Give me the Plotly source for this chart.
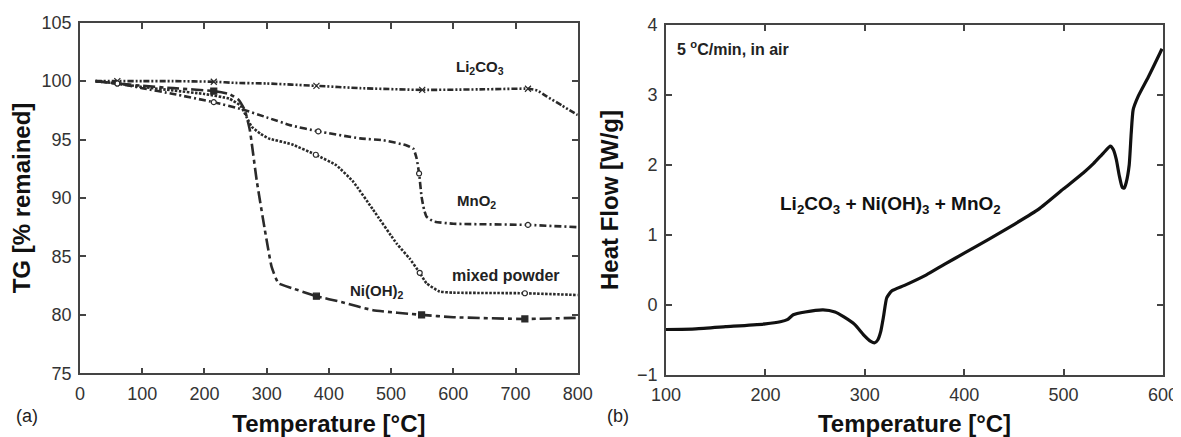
import plotly.graph_objects as go

# ---------------- (a) TG data ----------------
li_x = [25, 60, 100, 150, 215, 250, 300, 380, 450, 550, 650, 720, 735, 750, 775, 800]
li_y = [100, 100, 100, 100, 99.95, 99.85, 99.8, 99.6, 99.4, 99.25, 99.3, 99.35, 99.2, 98.7, 97.9, 97.1]
li_mx = [60, 215, 380, 550, 720]
li_my = [100, 99.95, 99.6, 99.25, 99.35]

mn_x = [25, 60, 100, 150, 215, 260, 300, 340, 383, 450, 487, 525, 536, 541, 545, 549, 553, 557, 568, 600, 720, 800]
mn_y = [100, 99.8, 99.4, 98.9, 98.2, 97.6, 96.9, 96.2, 95.7, 95.1, 94.95, 94.5, 94.2, 93.4, 92.1, 90.1, 89.0, 88.4, 88.0, 87.8, 87.7, 87.5]
mn_mx = [60, 215, 383, 545, 720]
mn_my = [99.8, 98.2, 95.7, 92.1, 87.7]

mix_x = [25, 60, 100, 150, 200, 240, 258, 268, 276, 290, 303, 340, 379, 412, 439, 471, 509, 530, 546, 557, 578, 600, 715, 800]
mix_y = [100, 99.8, 99.5, 99.2, 98.9, 98.5, 97.9, 96.9, 96.1, 95.5, 95.1, 94.6, 93.7, 92.8, 91.4, 89.0, 86.1, 84.8, 83.6, 82.7, 82.0, 81.9, 81.85, 81.7]
mix_mx = [60, 379, 546, 715]
mix_my = [99.8, 93.7, 83.6, 81.85]

ni_x = [25, 60, 100, 150, 215, 240, 255, 265, 273, 284, 297, 308, 319, 340, 380, 420, 471, 549, 600, 715, 800]
ni_y = [100, 99.8, 99.6, 99.4, 99.15, 98.9, 98.4, 97.5, 95.8, 91.5, 87.3, 84.1, 82.7, 82.3, 81.6, 81.1, 80.4, 80.0, 79.8, 79.65, 79.75]
ni_mx = [215, 380, 549, 715]
ni_my = [99.15, 81.6, 80.0, 79.65]

# ---------------- (b) DSC data ----------------
dsc_x = [100, 130, 160, 200, 215, 222, 228, 240, 258, 270, 279, 290, 299, 306, 310, 313, 316, 319, 322, 327,
         340, 362, 380, 400, 425, 450, 475, 500, 520, 530, 540, 547, 550, 553, 556, 559, 561, 563, 566, 568,
         570, 575, 585, 597, 599]
dsc_y = [-0.35, -0.34, -0.31, -0.27, -0.24, -0.21, -0.14, -0.10, -0.07, -0.10, -0.17, -0.28, -0.43, -0.52, -0.54, -0.50, -0.38, -0.15, 0.10, 0.20,
         0.28, 0.43, 0.58, 0.74, 0.94, 1.15, 1.37, 1.66, 1.89, 2.02, 2.17, 2.27, 2.22, 2.08, 1.85, 1.68, 1.67, 1.75, 2.0, 2.45,
         2.79, 2.98, 3.25, 3.6, 3.66]

tg_xticks = [0, 100, 200, 300, 400, 500, 600, 700, 800]
tg_yticks = [75, 80, 85, 90, 95, 100, 105]
dsc_xticks = [100, 200, 300, 400, 500, 600]
dsc_yticks = [-1, 0, 1, 2, 3, 4]

FONT = "Arial, Liberation Sans, sans-serif"
LC = "#2a2a2a"

fig = go.Figure()

def add_series(x, y, mx, my, dash, symbol, msize, mfill):
    fig.add_trace(go.Scatter(x=x, y=y, mode="lines", xaxis="x", yaxis="y",
                             line=dict(color=LC, width=2.6, dash=dash, shape="spline", smoothing=0.4),
                             showlegend=False, hoverinfo="skip"))
    fig.add_trace(go.Scatter(x=mx, y=my, mode="markers", xaxis="x", yaxis="y",
                             marker=dict(symbol=symbol, size=msize, color=mfill,
                                         line=dict(color=LC, width=1.2)),
                             showlegend=False, hoverinfo="skip"))

add_series(li_x, li_y, li_mx, li_my, "6px,2px,2px,2px,2px,2px", "x-thin", 6, LC)
add_series(mn_x, mn_y, mn_mx, mn_my, "7px,3px,2px,3px", "circle", 5, "white")
add_series(mix_x, mix_y, mix_mx, mix_my, "2.5px,1.5px", "circle", 5, "white")
add_series(ni_x, ni_y, ni_mx, ni_my, "12px,4px,4px,4px", "square", 6, LC)

fig.add_trace(go.Scatter(x=dsc_x, y=dsc_y, mode="lines", xaxis="x2", yaxis="y2",
                         line=dict(color="#111111", width=3.2, shape="spline", smoothing=0.5),
                         showlegend=False, hoverinfo="skip"))

axis_common = dict(showline=True, linecolor="#444", linewidth=1.6, mirror="ticks",
                   ticks="inside", ticklen=6, tickwidth=1.6, tickcolor="#444",
                   showgrid=False, zeroline=False, ticklabelstandoff=3, automargin=False,
                   tickfont=dict(family=FONT, size=18, color="#333"))
title_font = dict(family=FONT, size=24, color="#111")

fig.update_layout(
    width=1173, height=429,
    margin=dict(l=72, r=18, t=14, b=62),
    paper_bgcolor="white", plot_bgcolor="white",
    xaxis=dict(domain=[0, 0.4596], range=[0, 800], tickvals=tg_xticks, anchor="y",
               title=dict(text="<b>Temperature [°C]</b>", font=title_font, standoff=19),
               **axis_common),
    yaxis=dict(domain=[0.0048, 0.998], range=[75, 105], tickvals=tg_yticks, anchor="x",
               title=dict(text="<b>TG [% remained]</b>", font=title_font, standoff=5),
               **axis_common),
    xaxis2=dict(domain=[0.5411, 1.0], range=[100, 600], tickvals=dsc_xticks, anchor="y2",
                title=dict(text="<b>Temperature [°C]</b>", font=title_font, standoff=19),
                **axis_common),
    yaxis2=dict(domain=[0.0, 0.9915], range=[-1, 4], tickvals=dsc_yticks, anchor="x2",
                title=dict(text="<b>Heat Flow [W/g]</b>", font=title_font, standoff=12),
                **axis_common),
)

ann_font = dict(family=FONT, size=15, color="#222")
annotations = [
    dict(x=643, y=101.2, xref="x", yref="y", text="<b>Li<sub>2</sub>CO<sub>3</sub></b>", showarrow=False, font=ann_font),
    dict(x=637, y=89.7, xref="x", yref="y", text="<b>MnO<sub>2</sub></b>", showarrow=False, font=ann_font),
    dict(x=685, y=83.4, xref="x", yref="y", text="<b>mixed powder</b>", showarrow=False,
         font=dict(family=FONT, size=16, color="#222")),
    dict(x=478, y=82.0, xref="x", yref="y", text="<b>Ni(OH)<sub>2</sub></b>", showarrow=False, font=ann_font),
    dict(x=109, y=3.67, xref="x2", yref="y2", text="<b>5 <sup>o</sup>C/min, in air</b>", showarrow=False,
         xanchor="left", font=dict(family=FONT, size=16, color="#222")),
    dict(x=326, y=1.43, xref="x2", yref="y2",
         text="<b>Li<sub>2</sub>CO<sub>3</sub> + Ni(OH)<sub>3</sub> + MnO<sub>2</sub></b>",
         showarrow=False, font=dict(family=FONT, size=19, color="#111")),
    dict(x=-0.0609, y=-0.150, xref="paper", yref="paper", text="(a)", showarrow=False, xanchor="left",
         font=dict(family=FONT, size=18, color="#222")),
    dict(x=0.4968, y=-0.150, xref="paper", yref="paper", text="(b)", showarrow=False,
         font=dict(family=FONT, size=18, color="#222")),
]
fig.update_layout(annotations=annotations)

fig.write_html("out.html")
